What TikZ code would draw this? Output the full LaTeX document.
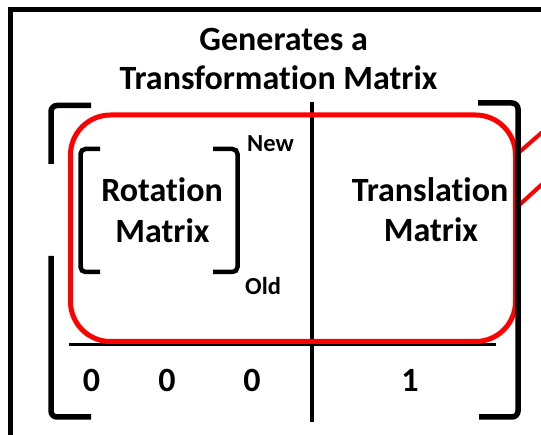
\documentclass[tikz,border=0pt]{standalone}
\usepackage{fontspec}
\setmainfont{Carlito}[Ligatures={NoCommon,NoRare,NoContextual}]
\begin{document}
\begin{tikzpicture}[x=1pt,y=-1pt,
  big/.style={font=\bfseries\fontsize{34}{41}\selectfont, inner sep=0pt, anchor=base},
  small/.style={font=\bfseries\fontsize{24.5}{29}\selectfont, inner sep=0pt, anchor=base west},
  frameline/.style={line width=5pt},
  bigbracket/.style={line width=5.5pt, rounded corners=6pt},
  smallbracket/.style={line width=4.5pt, rounded corners=5pt},
  divline/.style={line width=4.5pt},
  sepline/.style={line width=3pt},
  redbox/.style={draw=red, line width=5pt, rounded corners=40pt, minimum width=445pt, minimum height=226.5pt, inner sep=0pt},
  redline/.style={draw=red, line width=4pt}
]
\useasboundingbox (0,0) rectangle (541,435);
\clip (0,0) rectangle (541,435);
% outer frame
\draw[frameline] (10.5,10) rectangle (580,480);
% title
\node[big] (t1) at (283.7,51) {Generates a};
\node[big] (t2) at (278.5,90) {Transformation Matrix};
% divider and separator
\coordinate (dtop) at (312,102);
\coordinate (dbot) at (312,422);
\draw[divline] (dtop) -- (dbot);
\coordinate (sl) at (69,344.5);
\coordinate (sr) at (496,344.5);
\draw[sepline] (sl) -- (sr);
% red rounded box
\node[redbox] (rb) at (293,228.25) {};
% red connector lines
\coordinate (r1s) at (516,155);
\coordinate (r1e) at (560,116.7);
\coordinate (r2s) at (516,208);
\coordinate (r2e) at (560,167.8);
\draw[redline] (r1s) -- (r1e);
\draw[redline] (r2s) -- (r2e);
% big brackets
\draw[bigbracket] (91,105.5) -- (51,105.5) -- (51,164);
\draw[bigbracket] (51,256) -- (51,417) -- (91,417);
\draw[bigbracket] (478,103) -- (518,103) -- (518,417) -- (479,417);
% small brackets
\draw[smallbracket] (100,149) -- (80.5,149) -- (80.5,272) -- (100,272);
\draw[smallbracket] (213,149) -- (237.5,149) -- (237.5,272) -- (213,272);
% texts
\node[big] (rot1) at (162,202) {Rotation};
\node[big] (rot2) at (162.5,243) {Matrix};
\node[big] (tr1) at (430,202) {Translation};
\node[big] (tr2) at (431,242) {Matrix};
\node[small] (new) at (247,152) {New};
\node[small] (old) at (245,295) {Old};
\node[big] (z1) at (91.5,392) {0};
\node[big] (z2) at (167,392) {0};
\node[big] (z3) at (252,392) {0};
\node[big] (one) at (410,392) {1};
\end{tikzpicture}
\end{document}
